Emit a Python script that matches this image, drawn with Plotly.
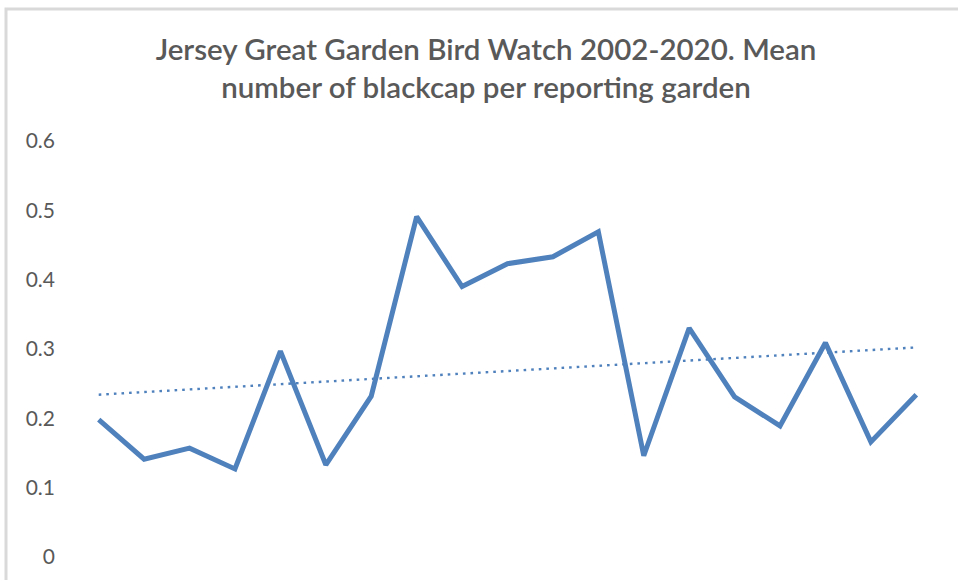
import numpy as np
import plotly.graph_objects as go

years = [str(y) for y in range(2002, 2021)]
blackcap_mean = [0.198, 0.141, 0.157, 0.127, 0.297, 0.133, 0.232, 0.491, 0.390,
                 0.423, 0.433, 0.469, 0.146, 0.330, 0.231, 0.189, 0.309, 0.166, 0.234]
y_ticks = [0, 0.1, 0.2, 0.3, 0.4, 0.5, 0.6]
y_tick_labels = ["0", "0.1", "0.2", "0.3", "0.4", "0.5", "0.6"]
title_text = "Jersey Great Garden Bird Watch 2002-2020. Mean<br>number of blackcap per reporting garden"

# linear trendline fitted to the series
idx = np.arange(len(blackcap_mean))
slope, intercept = np.polyfit(idx, blackcap_mean, 1)
trend = list(slope * idx + intercept)

LINE_BLUE = "#4F81BD"
TEXT_GRAY = "#595959"

fig = go.Figure()
fig.add_trace(go.Scatter(
    x=years, y=trend, mode="lines",
    line=dict(color=LINE_BLUE, width=2.4, dash="2.6px,5px"),
    hoverinfo="skip", showlegend=False,
))
fig.add_trace(go.Scatter(
    x=years, y=blackcap_mean, mode="lines",
    line=dict(color=LINE_BLUE, width=5),
    showlegend=False,
))

L, R, T, B = 76, 19, 141, 23
W, H = 958, 580
pw, ph = W - L - R, H - T - B

fig.update_layout(
    width=W, height=H,
    margin=dict(l=L, r=R, t=T, b=B),
    paper_bgcolor="white", plot_bgcolor="white",
    title=dict(
        text=title_text,
        x=486 / W, xanchor="center", xref="container",
        y=1 - 60 / H, yanchor="top", yref="container",
        font=dict(family="Lato", size=29.5, color=TEXT_GRAY, weight=600),
    ),
    xaxis=dict(
        type="category", range=[-0.5, len(years) - 0.5],
        showticklabels=False, showgrid=False, zeroline=False,
        showline=False, ticks="",
    ),
    yaxis=dict(
        range=[0, 0.6], tickvals=y_ticks, ticktext=y_tick_labels,
        showgrid=False, zeroline=False, showline=False, ticks="",
        ticklabelstandoff=20,
        tickfont=dict(family="Lato", size=21, color=TEXT_GRAY),
    ),
    shapes=[dict(
        type="rect", xref="paper", yref="paper",
        x0=(6 - L) / pw, x1=1.2,
        y0=-0.3, y1=(H - B - 9) / ph,
        line=dict(color="#D9D9D9", width=3),
        fillcolor="rgba(0,0,0,0)", layer="below",
    )],
)

fig.write_html("out.html", config={"displayModeBar": False},
               post_script="document.body.style.margin='0';")
